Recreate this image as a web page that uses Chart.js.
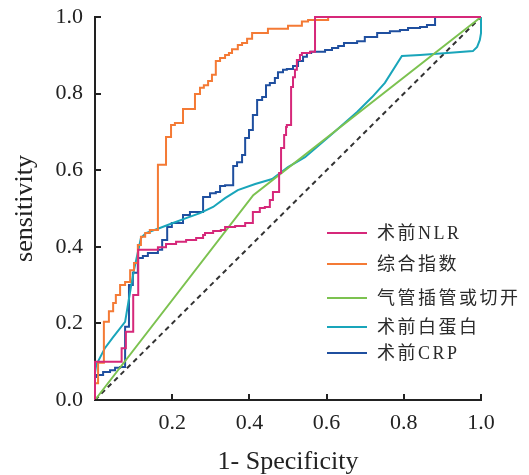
<!DOCTYPE html>
<html>
<head>
<meta charset="utf-8">
<script src="https://cdn.jsdelivr.net/npm/chart.js@4.4.1/dist/chart.umd.min.js"></script>
<style>
  html, body { margin: 0; padding: 0; background: #fff; }
  #wrap { width: 529px; height: 475px; }
</style>
</head>
<body>
<div id="wrap"><canvas id="roc"></canvas></div>
<script>
// ROC curves: x = 1-specificity, y = sensitivity
const seriesNames = ['术前NLR', '综合指数', '气管插管或切开', '术前白蛋白', '术前CRP'];
const seriesColors = ['#d6287a', '#f47a35', '#7cc250', '#19a5ba', '#1f4f9f'];

const xTickLabels = ['', '0.2', '0.4', '0.6', '0.8', '1.0'];
const yTickLabels = ['0.0', '0.2', '0.4', '0.6', '0.8', '1.0'];

// stepped curves: each point is the end of a horizontal run
const nlrX = [0, 0.069, 0.080, 0.099, 0.112, 0.163, 0.184, 0.210, 0.236, 0.262, 0.280, 0.285, 0.306, 0.326, 0.337, 0.363, 0.389, 0.409, 0.427, 0.440, 0.453, 0.461, 0.477, 0.482, 0.490, 0.495, 0.497, 0.508, 0.513, 0.518, 0.523, 0.531, 0.536, 0.557, 0.570, 1];
const nlrY = [0, 0.100, 0.135, 0.178, 0.274, 0.392, 0.399, 0.407, 0.413, 0.418, 0.423, 0.431, 0.436, 0.441, 0.444, 0.452, 0.454, 0.462, 0.491, 0.501, 0.504, 0.522, 0.543, 0.593, 0.658, 0.692, 0.713, 0.718, 0.817, 0.843, 0.862, 0.888, 0.901, 0.906, 0.909, 1];

const indexX = [0, 0.008, 0.023, 0.036, 0.047, 0.054, 0.065, 0.078, 0.091, 0.101, 0.111, 0.119, 0.130, 0.142, 0.163, 0.184, 0.197, 0.207, 0.228, 0.259, 0.272, 0.282, 0.293, 0.303, 0.313, 0.324, 0.337, 0.347, 0.355, 0.370, 0.381, 0.394, 0.407, 0.448, 0.500, 0.536, 0.552, 0.604, 1];
const indexY = [0, 0.044, 0.097, 0.204, 0.232, 0.253, 0.274, 0.300, 0.308, 0.339, 0.358, 0.405, 0.426, 0.436, 0.444, 0.614, 0.687, 0.718, 0.723, 0.760, 0.799, 0.815, 0.822, 0.833, 0.849, 0.885, 0.893, 0.901, 0.906, 0.916, 0.927, 0.932, 0.943, 0.958, 0.969, 0.977, 0.988, 0.992, 1];

const crpX = [0, 0.003, 0.021, 0.039, 0.052, 0.065, 0.078, 0.088, 0.098, 0.111, 0.124, 0.137, 0.163, 0.174, 0.187, 0.199, 0.228, 0.246, 0.280, 0.298, 0.313, 0.324, 0.337, 0.358, 0.368, 0.381, 0.389, 0.399, 0.409, 0.420, 0.433, 0.443, 0.453, 0.466, 0.474, 0.487, 0.497, 0.513, 0.526, 0.539, 0.549, 0.560, 0.596, 0.614, 0.630, 0.645, 0.679, 0.699, 0.731, 0.764, 0.790, 0.811, 0.842, 0.860, 0.881, 1];
const crpY = [0, 0.060, 0.065, 0.073, 0.078, 0.084, 0.086, 0.191, 0.300, 0.332, 0.371, 0.376, 0.384, 0.392, 0.418, 0.452, 0.462, 0.483, 0.491, 0.530, 0.540, 0.543, 0.559, 0.561, 0.611, 0.621, 0.640, 0.684, 0.705, 0.744, 0.783, 0.791, 0.822, 0.828, 0.841, 0.856, 0.862, 0.864, 0.872, 0.885, 0.896, 0.906, 0.909, 0.914, 0.919, 0.924, 0.932, 0.937, 0.948, 0.958, 0.963, 0.966, 0.971, 0.974, 0.979, 1];

// plain polylines
const intubX = [0, 0.410, 1];
const intubY = [0, 0.535, 1];

const albX = [0, 0, 0.003, 0.026, 0.047, 0.078, 0.093, 0.101, 0.119, 0.132, 0.168, 0.202, 0.236, 0.272, 0.306, 0.337, 0.370, 0.415, 0.459, 0.500, 0.544, 0.596, 0.617, 0.679, 0.718, 0.751, 0.795, 0.842, 0.912, 0.979, 0.990, 0.997, 1, 1];
const albY = [0, 0.070, 0.091, 0.136, 0.164, 0.204, 0.295, 0.339, 0.423, 0.436, 0.449, 0.462, 0.475, 0.488, 0.504, 0.527, 0.548, 0.564, 0.577, 0.608, 0.634, 0.679, 0.697, 0.752, 0.791, 0.828, 0.898, 0.901, 0.906, 0.911, 0.922, 0.940, 0.958, 1];

const refX = [0, 1];
const refY = [0, 1];

const axisColor = '#222';
const serif = '"Liberation Serif", "Times New Roman", serif';

function zip(xs, ys) {
    return xs.map((x, i) => ({ x, y: ys[i] }));
}

function curve(i, xs, ys, stepped) {
    return {
        label: seriesNames[i],
        data: zip(xs, ys),
        borderColor: seriesColors[i],
        borderWidth: 2,
        pointRadius: 0,
        showLine: true,
        // 'after' = go up at the old x, then across
        stepped: stepped ? 'after' : false,
        tension: 0,
        clip: 4
    };
}

// tick marks pointing into the plot
const innerTicks = {
    id: 'innerTicks',
    afterDraw(chart) {
        const { ctx, chartArea, scales: { x, y } } = chart;
        ctx.save();
        ctx.strokeStyle = axisColor;
        ctx.lineWidth = 2;
        ctx.beginPath();
        x.ticks.forEach(t => {
            if (t.value === 0) return;
            const px = Math.round(x.getPixelForValue(t.value));
            ctx.moveTo(px, chartArea.bottom);
            ctx.lineTo(px, chartArea.bottom - 6);
        });
        y.ticks.forEach(t => {
            const py = Math.round(y.getPixelForValue(t.value));
            ctx.moveTo(chartArea.left, py);
            ctx.lineTo(chartArea.left + 6, py);
        });
        ctx.stroke();
        ctx.restore();
    }
};

// legend inside the plot, lower right
const rocLegend = {
    id: 'rocLegend',
    afterDraw(chart, args, opts) {
        const { ctx } = chart;
        ctx.save();
        ctx.font = '18px "Liberation Serif", "Noto Sans CJK SC", serif';
        ctx.letterSpacing = '2.5px';
        ctx.textBaseline = 'middle';
        ctx.fillStyle = '#2a2a2a';
        opts.rows.forEach((rowY, i) => {
            ctx.strokeStyle = seriesColors[i];
            ctx.lineWidth = 2;
            ctx.beginPath();
            ctx.moveTo(opts.x, rowY);
            ctx.lineTo(opts.x + opts.lineLen, rowY);
            ctx.stroke();
            ctx.fillText(seriesNames[i], opts.textX, rowY + 1);
        });
        ctx.restore();
    }
};

new Chart(document.getElementById('roc'), {
    type: 'scatter',
    data: {
        datasets: [
            curve(0, nlrX, nlrY, true),
            curve(1, indexX, indexY, true),
            curve(2, intubX, intubY, false),
            curve(3, albX, albY, false),
            curve(4, crpX, crpY, true),
            {
                label: 'ref',
                data: zip(refX, refY),
                borderColor: '#333',
                borderWidth: 2,
                borderDash: [5, 4],
                pointRadius: 0,
                showLine: true
            }
        ]
    },
    options: {
        responsive: true,
        maintainAspectRatio: false,
        animation: false,
        layout: { padding: { top: 17, right: 48, left: 0, bottom: 0 } },
        plugins: {
            legend: { display: false },
            tooltip: { enabled: false },
            rocLegend: { x: 327, lineLen: 40, textX: 377, rows: [233, 264, 298, 327, 353] }
        },
        scales: {
            x: {
                type: 'linear',
                min: 0, max: 1,
                afterFit: s => { s.height = 75; },
                ticks: {
                    stepSize: 0.2,
                    padding: 10,
                    color: axisColor,
                    font: { family: serif, size: 22 },
                    callback: (v, i) => xTickLabels[i]
                },
                grid: { display: true, drawOnChartArea: false, drawTicks: false },
                border: { display: true, color: axisColor, width: 2 },
                title: {
                    display: true,
                    text: '1- Specificity',
                    color: axisColor,
                    font: { family: serif, size: 26 },
                    padding: { top: 0, bottom: -3 }
                }
            },
            y: {
                type: 'linear',
                min: 0, max: 1,
                afterFit: s => { s.width = 95; s.paddingTop = 0; s.paddingBottom = 0; },
                ticks: {
                    stepSize: 0.2,
                    padding: 12,
                    color: axisColor,
                    font: { family: serif, size: 22 },
                    callback: (v, i) => yTickLabels[i]
                },
                grid: { display: true, drawOnChartArea: false, drawTicks: false },
                border: { display: true, color: axisColor, width: 2 },
                title: {
                    display: true,
                    text: 'sensitivity',
                    color: axisColor,
                    font: { family: serif, size: 26 },
                    padding: { top: 10, bottom: 0 }
                }
            }
        }
    },
    plugins: [innerTicks, rocLegend]
});
</script>
</body>
</html>
